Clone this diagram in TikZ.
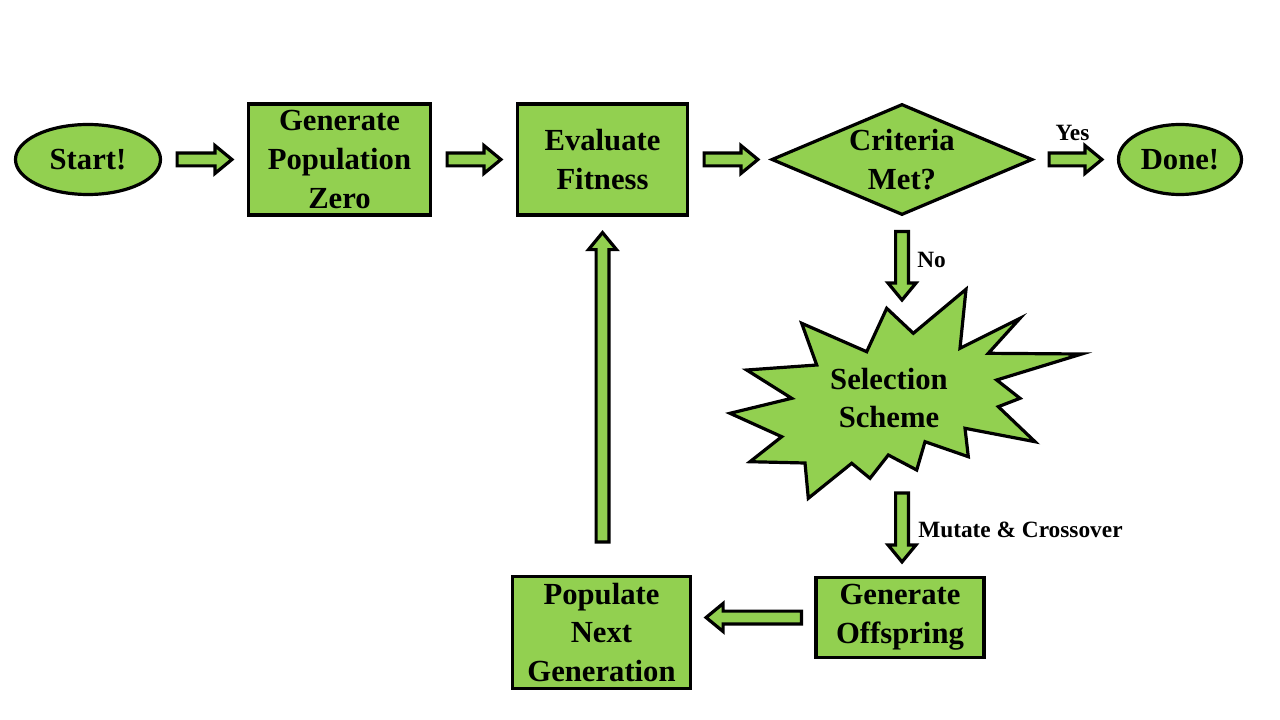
\documentclass[tikz,border=0pt]{standalone}
\usepackage{fontspec}
\setmainfont{Liberation Serif}
\usetikzlibrary{calc, shapes.geometric}
\definecolor{leaf}{HTML}{92D050}

\newcommand{\bigfont}{\fontsize{23}{29}\selectfont\bfseries}
\newcommand{\smallfont}{\fontsize{17.5}{20}\selectfont\bfseries}

% fat outlined arrow from #1 to #2
\newcommand{\blockarrow}[2]{%
    \coordinate (neck) at ($(#2)!12.75pt!(#1)$);
    \path[outline]
        ($(#1)!4.8pt!90:(#2)$) -- ($(neck)!4.8pt!90:(#2)$) -- ($(neck)!10.5pt!90:(#2)$)
        -- (#2) -- ($(neck)!10.5pt!-90:(#2)$) -- ($(neck)!4.8pt!-90:(#2)$)
        -- ($(#1)!4.8pt!-90:(#2)$) -- cycle;
}

\begin{document}
\begin{tikzpicture}[x=0.75pt, y=-0.75pt,
        outline/.style={draw, fill=leaf, line width=2.4pt, line join=miter},
        block/.style={outline, align=center, font=\bigfont},
        terminal/.style={block, ellipse, inner sep=0pt},
        process/.style={block, rectangle, inner sep=0pt},
        decision/.style={block, diamond, aspect=2.35, inner sep=-2pt},
        tag/.style={font=\smallfont, inner sep=0pt}]
    \useasboundingbox (0,0) rectangle (1280,720);

    % Draw the states
    \node[terminal, minimum width=108.75pt, minimum height=52.5pt] (start) at (88,159.5) {Start!};
    \node[process, minimum width=136.5pt, minimum height=83.25pt] (gen) at (339.5,159.5) {Generate\\Population\\Zero};
    \node[process, minimum width=127.5pt, minimum height=83.25pt] (eval) at (602.5,159.5) {Evaluate\\Fitness};
    \node[decision, minimum width=195.75pt, minimum height=83.25pt] (crit) at (902,159.5) {Criteria\\Met?};
    \node[terminal, minimum width=92.25pt, minimum height=52.5pt] (done) at (1180,159.5) {Done!};

    \path[outline] (886.7,308.3) -- (913.3,333.3) -- (966,289.3) -- (960,348.3)
        -- (1020,318.3) -- (988.3,353.3) -- (1081.7,354) -- (996.7,380)
        -- (1020,398.3) -- (998.3,406.7) -- (1035,441.7) -- (965,428.3)
        -- (968.3,456.7) -- (925,441.7) -- (916.7,470) -- (888.3,455)
        -- (870,478.3) -- (851.7,463.3) -- (808.3,498.3) -- (805,463)
        -- (750,461.7) -- (781.7,436.7) -- (730,413.3) -- (791.7,398.3)
        -- (746.7,370) -- (816.7,365) -- (801.7,323.3) -- (866.7,351.7) -- cycle;
    \node[font=\bigfont, align=center, inner sep=0pt] (sel) at (889,398) {Selection\\Scheme};
    \coordinate (selN) at (902,300);
    \coordinate (selS) at (902,493);

    \node[process, minimum width=126pt, minimum height=60pt] (off) at (900,617.5) {Generate\\Offspring};
    \node[process, minimum width=133.5pt, minimum height=84pt] (pop) at (601.5,632.5) {Populate\\Next\\Generation};

    % Connect the states with arrows
    \coordinate (a1s) at ($(start.east)+(15,0)$);
    \coordinate (a1e) at ($(gen.west)+(-15,0)$);
    \coordinate (a2s) at ($(gen.east)+(15,0)$);
    \coordinate (a2e) at ($(eval.west)+(-15,0)$);
    \coordinate (a3s) at ($(eval.east)+(15,0)$);
    \coordinate (a3e) at ($(crit.west)+(-12,0)$);
    \coordinate (a4s) at ($(crit.east)+(15,0)$);
    \coordinate (a4e) at ($(done.west)+(-15,0)$);
    \coordinate (a5s) at ($(crit.south)+(0,15)$);
    \coordinate (a6e) at ($(selS |- off.north)+(0,-14)$);
    \coordinate (a7s) at ($(off.west)+(-13,0)$);
    \coordinate (a7e) at ($(pop.east |- off.west)+(14,0)$);
    \coordinate (a8s) at ($(eval.south |- pop.north)+(0,-33)$);
    \coordinate (a8e) at ($(eval.south)+(0,16)$);

    \blockarrow{a1s}{a1e}
    \blockarrow{a2s}{a2e}
    \blockarrow{a3s}{a3e}
    \blockarrow{a4s}{a4e}
    \blockarrow{a5s}{selN}
    \blockarrow{selS}{a6e}
    \blockarrow{a7s}{a7e}
    \blockarrow{a8s}{a8e}

    \node[tag] (yes) at ($(a4s)!0.5!(a4e)+(-3,-27)$) {Yes};
    \node[tag, anchor=west] (no) at ($(a5s)!0.5!(selN)+(15,-6)$) {No};
    \node[tag, anchor=west] (mut) at ($(selS)!0.5!(a6e)+(16,2)$) {Mutate \& Crossover};
\end{tikzpicture}
\end{document}
